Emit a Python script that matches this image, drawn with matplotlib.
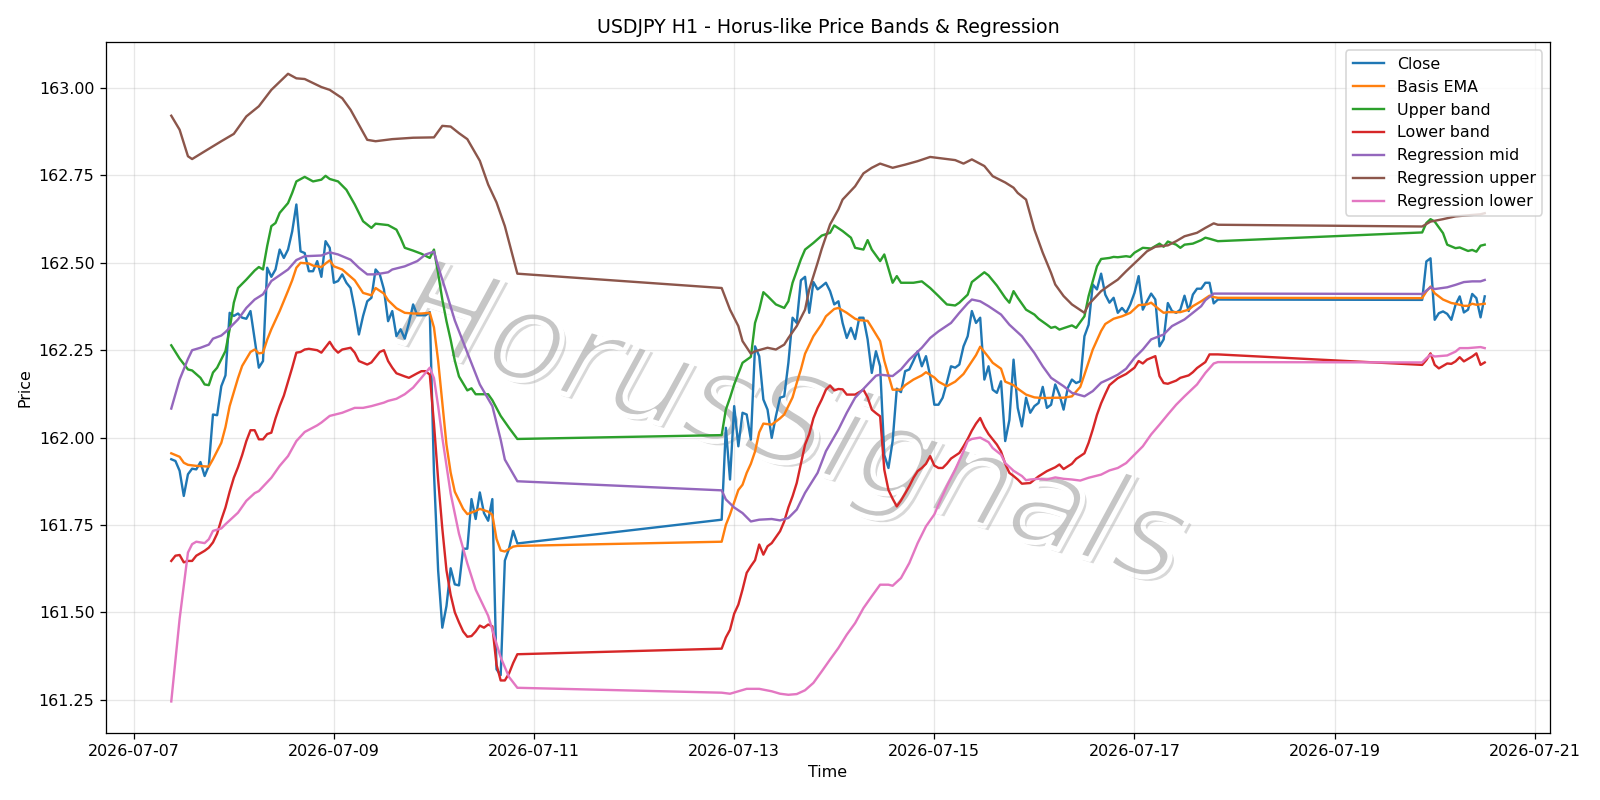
#!/usr/bin/env python3
"""
USDJPY H1: close, basis EMA with bands, and regression channel.
Values read off the reference chart (hours counted from 2026-07-07 00:00).
"""

import matplotlib

matplotlib.use("Agg")

import matplotlib.patheffects as pe
import matplotlib.pyplot as plt
import numpy as np
import pandas as pd

T0 = pd.Timestamp("2026-07-07 00:00")

# Close: hourly bars, the market is shut over the two weekends
CLOSE_H = list(range(9, 93)) + list(range(141, 261)) + list(range(309, 325))
CLOSE_V = [
    161.938, 161.933, 161.905, 161.833, 161.895, 161.911, 161.909, 161.930, 161.890, 161.919,
    162.066, 162.064, 162.147, 162.178, 162.357, 162.348, 162.355, 162.343, 162.340, 162.362,
    162.281, 162.200, 162.219, 162.486, 162.460, 162.481, 162.538, 162.514, 162.538, 162.590,
    162.667, 162.533, 162.528, 162.476, 162.476, 162.505, 162.460, 162.562, 162.543, 162.443,
    162.448, 162.467, 162.443, 162.428, 162.367, 162.295, 162.348, 162.390, 162.400, 162.481,
    162.467, 162.424, 162.333, 162.362, 162.290, 162.310, 162.283, 162.328, 162.381, 162.350,
    162.350, 162.350, 162.359, 161.900, 161.620, 161.456, 161.518, 161.626, 161.580, 161.577,
    161.682, 161.682, 161.824, 161.767, 161.843, 161.784, 161.762, 161.824, 161.337, 161.320,
    161.648, 161.682, 161.733, 161.697,
    161.765, 162.028, 161.880, 162.090, 161.975, 162.071, 162.066, 161.994, 162.261, 162.233,
    162.109, 162.080, 161.999, 162.061, 162.114, 162.118, 162.214, 162.343, 162.328, 162.450,
    162.460, 162.357, 162.445, 162.424, 162.433, 162.443, 162.419, 162.381, 162.390, 162.328,
    162.285, 162.314, 162.282, 162.343, 162.343, 162.281, 162.185, 162.247, 162.204, 161.950,
    161.913, 161.990, 162.140, 162.130, 162.190, 162.195, 162.220, 162.247, 162.204, 162.233,
    162.176, 162.094, 162.094, 162.114, 162.157, 162.204, 162.200, 162.209, 162.261, 162.290,
    162.362, 162.328, 162.343, 162.166, 162.204, 162.137, 162.128, 162.161, 161.990, 162.050,
    162.223, 162.085, 162.032, 162.114, 162.071, 162.090, 162.099, 162.145, 162.085, 162.094,
    162.152, 162.123, 162.080, 162.142, 162.166, 162.156, 162.161, 162.290, 162.323, 162.438,
    162.424, 162.469, 162.409, 162.386, 162.400, 162.357, 162.371, 162.357, 162.381, 162.414,
    162.462, 162.366, 162.390, 162.412, 162.395, 162.261, 162.281, 162.385, 162.362, 162.357,
    162.366, 162.406, 162.362, 162.409, 162.426, 162.426, 162.443, 162.443, 162.384, 162.395,
    162.394, 162.504, 162.513, 162.337, 162.356, 162.361, 162.354, 162.337, 162.380, 162.404,
    162.358, 162.366, 162.411, 162.399, 162.344, 162.404,
]

EMA_H = [
    9, 11, 12, 13, 15, 18, 19, 21, 22, 23, 25, 26, 28, 29, 30, 31, 32, 33, 35, 37, 38, 39, 40,
    42, 43, 45, 46, 47, 48, 50, 53, 55, 57, 58, 60, 61, 63, 65, 67, 69, 71, 72, 73, 74, 75, 76,
    77, 79, 80, 82, 83, 85, 86, 87, 88, 89, 91, 92,
    141, 142, 143, 145, 146, 147, 148, 149, 150, 151, 153, 155, 156, 158, 159, 160, 161, 163,
    165, 166, 168, 169, 171, 173, 174, 176, 177, 179, 180, 182, 184, 185, 187, 189, 190, 192,
    193, 195, 197, 199, 200, 202, 203, 205, 206, 208, 209, 211, 212, 214, 216, 218, 221, 223,
    225, 227, 228, 230, 232, 233, 235, 237, 239, 241, 243, 244, 246, 247, 248, 251, 253, 254,
    256, 258, 259, 260,
    309, 310, 311, 312, 314, 316, 317, 319, 320, 321, 322, 324,
]
EMA_V = [
    161.955, 161.945, 161.928, 161.922, 161.919, 161.917, 161.938, 161.985, 162.030, 162.090,
    162.170, 162.205, 162.245, 162.252, 162.241, 162.243, 162.280, 162.310, 162.362, 162.420,
    162.450, 162.486, 162.500, 162.498, 162.492, 162.488, 162.498, 162.507, 162.490, 162.481,
    162.450, 162.414, 162.407, 162.428, 162.412, 162.393, 162.370, 162.357, 162.355, 162.355,
    162.357, 162.315, 162.220, 162.100, 161.980, 161.900, 161.845, 161.796, 161.781, 161.790,
    161.796, 161.788, 161.779, 161.710, 161.677, 161.674, 161.688, 161.690,
    161.702, 161.750, 161.780, 161.850, 161.865, 161.899, 161.925, 161.960, 162.015, 162.040,
    162.037, 162.055, 162.066, 162.115, 162.156, 162.195, 162.240, 162.290, 162.325, 162.347,
    162.368, 162.371, 162.357, 162.340, 162.336, 162.334, 162.315, 162.276, 162.220, 162.137,
    162.137, 162.150, 162.166, 162.178, 162.187, 162.172, 162.160, 162.147, 162.160, 162.182,
    162.200, 162.236, 162.260, 162.230, 162.214, 162.197, 162.160, 162.150, 162.140, 162.123,
    162.115, 162.113, 162.114, 162.114, 162.118, 162.145, 162.180, 162.252, 162.305, 162.325,
    162.340, 162.347, 162.357, 162.379, 162.381, 162.386, 162.366, 162.357, 162.359, 162.359,
    162.366, 162.376, 162.390, 162.406, 162.402, 162.400,
    162.399, 162.418, 162.432, 162.413, 162.395, 162.385, 162.383, 162.377, 162.377, 162.383,
    162.380, 162.383,
]

UPPER_H = [
    9, 11, 13, 14, 16, 17, 18, 19, 20, 22, 23, 24, 25, 27, 29, 30, 31, 32, 33, 34, 35, 37, 38,
    39, 41, 43, 45, 46, 47, 49, 51, 53, 55, 57, 58, 61, 63, 64, 65, 67, 69, 71, 72, 73, 74, 75,
    76, 77, 78, 80, 81, 82, 85, 86, 88, 90, 92,
    141, 142, 143, 144, 146, 148, 149, 150, 151, 152, 154, 156, 157, 158, 160, 161, 163, 165,
    167, 168, 170, 172, 173, 175, 176, 177, 179, 180, 182, 183, 184, 187, 189, 191, 193, 195,
    197, 198, 200, 201, 204, 205, 207, 209, 210, 211, 212, 214, 216, 217, 219, 220, 221, 222,
    224, 225, 226, 228, 229, 230, 231, 232, 234, 235, 236, 238, 239, 240, 242, 244, 246, 247,
    248, 250, 251, 252, 254, 256, 257, 258, 260,
    309, 310, 311, 312, 314, 315, 317, 318, 320, 321, 322, 323, 324,
]
UPPER_V = [
    162.264, 162.226, 162.195, 162.192, 162.171, 162.152, 162.150, 162.186, 162.200, 162.248,
    162.310, 162.386, 162.428, 162.452, 162.478, 162.488, 162.481, 162.548, 162.605, 162.614,
    162.643, 162.671, 162.700, 162.733, 162.746, 162.733, 162.738, 162.749, 162.740, 162.733,
    162.709, 162.667, 162.619, 162.600, 162.612, 162.608, 162.595, 162.571, 162.543, 162.535,
    162.526, 162.514, 162.538, 162.470, 162.395, 162.333, 162.280, 162.220, 162.175, 162.135,
    162.141, 162.124, 162.124, 162.107, 162.062, 162.028, 161.996,
    162.007, 162.080, 162.114, 162.152, 162.214, 162.231, 162.328, 162.366, 162.416, 162.405,
    162.381, 162.371, 162.390, 162.443, 162.510, 162.538, 162.557, 162.578, 162.586, 162.607,
    162.591, 162.572, 162.543, 162.538, 162.565, 162.538, 162.505, 162.524, 162.443, 162.462,
    162.443, 162.443, 162.447, 162.428, 162.405, 162.381, 162.378, 162.386, 162.409, 162.445,
    162.473, 162.464, 162.435, 162.400, 162.386, 162.419, 162.400, 162.366, 162.352, 162.340,
    162.323, 162.314, 162.317, 162.309, 162.317, 162.321, 162.314, 162.347, 162.405, 162.448,
    162.490, 162.511, 162.514, 162.517, 162.516, 162.519, 162.517, 162.529, 162.543, 162.541,
    162.555, 162.546, 162.561, 162.552, 162.543, 162.552, 162.555, 162.565, 162.572, 162.569,
    162.562,
    162.587, 162.614, 162.625, 162.618, 162.585, 162.552, 162.542, 162.544, 162.534, 162.537,
    162.532, 162.549, 162.552,
]

LOWER_H = [
    9, 10, 11, 12, 13, 14, 15, 17, 18, 19, 20, 21, 22, 23, 24, 25, 26, 27, 28, 29, 30, 31, 32,
    33, 34, 35, 36, 37, 38, 39, 40, 41, 42, 44, 45, 47, 48, 49, 50, 52, 53, 54, 56, 57, 59, 60,
    61, 62, 63, 65, 66, 68, 69, 70, 71, 72, 73, 74, 75, 76, 77, 78, 79, 80, 81, 82, 83, 84, 85,
    86, 87, 88, 89, 90, 91, 92,
    141, 142, 143, 144, 145, 146, 147, 148, 149, 150, 151, 152, 153, 155, 156, 157, 158, 159,
    160, 161, 162, 163, 164, 165, 166, 167, 168, 169, 170, 171, 173, 175, 176, 177, 178, 179,
    180, 181, 182, 183, 184, 185, 186, 187, 188, 189, 190, 191, 192, 193, 194, 195, 196, 197,
    198, 199, 200, 201, 202, 203, 204, 205, 206, 207, 208, 209, 210, 211, 212, 213, 215, 217,
    219, 221, 222, 223, 225, 226, 228, 229, 230, 231, 232, 233, 234, 235, 236, 238, 240, 241,
    242, 243, 245, 246, 247, 248, 250, 251, 253, 254, 255, 257, 258, 260,
    309, 310, 311, 312, 313, 315, 316, 317, 318, 319, 321, 322, 323, 324,
]
LOWER_V = [
    161.647, 161.662, 161.664, 161.643, 161.647, 161.647, 161.662, 161.676, 161.685, 161.700,
    161.725, 161.765, 161.800, 161.845, 161.885, 161.915, 161.950, 161.990, 162.021, 162.021,
    161.995, 161.995, 162.010, 162.014, 162.055, 162.090, 162.120, 162.160, 162.200, 162.243,
    162.245, 162.252, 162.254, 162.250, 162.243, 162.274, 162.255, 162.243, 162.252, 162.257,
    162.243, 162.219, 162.209, 162.215, 162.245, 162.250, 162.219, 162.200, 162.184, 162.175,
    162.171, 162.184, 162.190, 162.190, 162.180, 162.040, 161.880, 161.740, 161.620, 161.550,
    161.500, 161.471, 161.445, 161.430, 161.432, 161.445, 161.462, 161.456, 161.465, 161.460,
    161.350, 161.305, 161.305, 161.325, 161.355, 161.380,
    161.396, 161.428, 161.450, 161.496, 161.522, 161.565, 161.613, 161.632, 161.649, 161.694,
    161.665, 161.689, 161.698, 161.732, 161.760, 161.800, 161.832, 161.870, 161.925, 161.980,
    162.010, 162.055, 162.085, 162.109, 162.137, 162.149, 162.135, 162.139, 162.138, 162.123,
    162.123, 162.137, 162.115, 162.080, 162.070, 162.061, 161.908, 161.850, 161.825, 161.803,
    161.820, 161.840, 161.861, 161.885, 161.904, 161.913, 161.925, 161.947, 161.920, 161.913,
    161.913, 161.925, 161.940, 161.948, 161.956, 161.975, 161.996, 162.020, 162.040, 162.056,
    162.030, 162.010, 161.995, 161.980, 161.960, 161.925, 161.899, 161.890, 161.880, 161.868,
    161.870, 161.889, 161.904, 161.915, 161.923, 161.910, 161.925, 161.939, 161.955, 161.985,
    162.023, 162.065, 162.098, 162.125, 162.150, 162.160, 162.170, 162.182, 162.200, 162.219,
    162.212, 162.223, 162.233, 162.176, 162.156, 162.154, 162.163, 162.171, 162.178, 162.187,
    162.199, 162.216, 162.238, 162.238,
    162.208, 162.222, 162.241, 162.208, 162.198, 162.212, 162.211, 162.218, 162.230, 162.218,
    162.232, 162.241, 162.208, 162.215,
]

REG_MID_H = [
    9, 11, 13, 14, 16, 18, 19, 21, 22, 25, 27, 29, 31, 33, 37, 39, 41, 45, 47, 49, 52, 54, 56,
    58, 61, 62, 65, 68, 70, 72, 73, 75, 77, 80, 83, 86, 88, 89, 92,
    141, 142, 144, 146, 148, 150, 153, 155, 157, 159, 161, 164, 166, 169, 171, 173, 176, 178,
    179, 182, 184, 186, 189, 191, 193, 196, 198, 200, 201, 203, 205, 208, 210, 213, 216, 218,
    220, 223, 225, 228, 230, 232, 234, 236, 238, 240, 242, 244, 247, 249, 252, 254, 256, 257,
    259, 260,
    309, 311, 312, 315, 317, 319, 321, 323, 324,
]
REG_MID_V = [
    162.083, 162.166, 162.225, 162.250, 162.257, 162.266, 162.283, 162.292, 162.302, 162.338,
    162.371, 162.395, 162.410, 162.448, 162.481, 162.508, 162.519, 162.521, 162.530, 162.524,
    162.509, 162.486, 162.467, 162.467, 162.473, 162.481, 162.490, 162.505, 162.524, 162.532,
    162.490, 162.414, 162.335, 162.243, 162.152, 162.090, 161.994, 161.937, 161.875,
    161.849, 161.823, 161.800, 161.784, 161.760, 161.765, 161.767, 161.763, 161.770, 161.794,
    161.842, 161.899, 161.961, 162.023, 162.071, 162.114, 162.152, 162.177, 162.180, 162.176,
    162.195, 162.223, 162.257, 162.285, 162.304, 162.328, 162.357, 162.384, 162.395, 162.390,
    162.376, 162.352, 162.323, 162.290, 162.242, 162.204, 162.171, 162.147, 162.128, 162.118,
    162.133, 162.157, 162.168, 162.180, 162.197, 162.228, 162.252, 162.281, 162.295, 162.319,
    162.338, 162.357, 162.376, 162.393, 162.412, 162.412,
    162.411, 162.430, 162.425, 162.430, 162.437, 162.445, 162.447, 162.447, 162.451,
]

REG_UP_H = [
    9, 11, 13, 14, 17, 21, 24, 27, 30, 33, 37, 39, 41, 45, 47, 50, 52, 56, 58, 62, 67, 72, 74,
    76, 78, 80, 83, 85, 87, 89, 92,
    141, 143, 145, 146, 148, 149, 152, 154, 156, 157, 159, 161, 162, 164, 165, 167, 169, 170,
    173, 175, 177, 179, 182, 185, 188, 191, 193, 197, 199, 201, 204, 206, 209, 211, 212, 214,
    216, 218, 220, 221, 223, 225, 228, 229, 232, 234, 236, 238, 241, 243, 245, 248, 250, 252,
    255, 257, 259, 260,
    309, 311, 314, 317, 320, 323, 324,
]
REG_UP_V = [
    162.921, 162.881, 162.805, 162.797, 162.819, 162.848, 162.869, 162.919, 162.948, 162.995,
    163.041, 163.028, 163.026, 163.003, 162.995, 162.971, 162.938, 162.852, 162.848, 162.854,
    162.858, 162.859, 162.892, 162.890, 162.871, 162.854, 162.792, 162.724, 162.673, 162.605,
    162.469,
    162.428, 162.366, 162.319, 162.276, 162.240, 162.247, 162.257, 162.252, 162.266, 162.285,
    162.319, 162.366, 162.424, 162.500, 162.540, 162.610, 162.653, 162.681, 162.719, 162.756,
    162.772, 162.784, 162.772, 162.781, 162.791, 162.803, 162.800, 162.794, 162.784, 162.796,
    162.777, 162.748, 162.730, 162.715, 162.700, 162.681, 162.595, 162.529, 162.471, 162.438,
    162.405, 162.381, 162.357, 162.381, 162.419, 162.436, 162.452, 162.476, 162.510, 162.533,
    162.546, 162.550, 162.562, 162.576, 162.586, 162.600, 162.613, 162.609,
    162.604, 162.618, 162.625, 162.633, 162.636, 162.639, 162.642,
]

REG_LO_H = [
    9, 11, 13, 14, 15, 17, 18, 19, 21, 22, 25, 27, 29, 30, 33, 35, 37, 39, 41, 44, 45, 47, 50,
    53, 55, 57, 60, 61, 63, 65, 67, 69, 71, 72, 73, 74, 76, 78, 80, 82, 85, 87, 88, 90, 92,
    141, 143, 145, 147, 150, 153, 155, 157, 159, 161, 163, 165, 167, 169, 171, 173, 175, 177,
    179, 181, 182, 184, 186, 188, 190, 192, 193, 195, 197, 199, 200, 201, 203, 205, 206, 208,
    209, 211, 213, 214, 215, 217, 219, 221, 223, 225, 227, 229, 232, 234, 236, 238, 240, 242,
    244, 246, 248, 250, 252, 255, 257, 259, 260,
    309, 310, 311, 312, 315, 317, 318, 320, 323, 324,
]
REG_LO_V = [
    161.245, 161.481, 161.671, 161.695, 161.702, 161.698, 161.709, 161.733, 161.740, 161.752,
    161.785, 161.819, 161.841, 161.847, 161.885, 161.919, 161.947, 161.990, 162.016, 162.035,
    162.043, 162.062, 162.071, 162.085, 162.085, 162.090, 162.100, 162.105, 162.111, 162.124,
    162.143, 162.171, 162.200, 162.170, 162.090, 162.000, 161.840, 161.725, 161.640, 161.565,
    161.490, 161.410, 161.371, 161.315, 161.284,
    161.270, 161.267, 161.274, 161.281, 161.281, 161.274, 161.267, 161.264, 161.266, 161.277,
    161.298, 161.331, 161.365, 161.398, 161.436, 161.469, 161.512, 161.546, 161.579, 161.579,
    161.576, 161.598, 161.641, 161.698, 161.746, 161.780, 161.808, 161.861, 161.908, 161.961,
    161.990, 161.996, 162.000, 161.987, 161.970, 161.951, 161.927, 161.905, 161.890, 161.878,
    161.880, 161.882, 161.880, 161.886, 161.882, 161.880, 161.877, 161.885, 161.894, 161.906,
    161.913, 161.927, 161.951, 161.975, 162.009, 162.037, 162.066, 162.094, 162.118, 162.152,
    162.185, 162.212, 162.216,
    162.215, 162.227, 162.237, 162.232, 162.235, 162.246, 162.256, 162.256, 162.259, 162.256,
]

SERIES = [
    ("Close", CLOSE_H, CLOSE_V),
    ("Basis EMA", EMA_H, EMA_V),
    ("Upper band", UPPER_H, UPPER_V),
    ("Lower band", LOWER_H, LOWER_V),
    ("Regression mid", REG_MID_H, REG_MID_V),
    ("Regression upper", REG_UP_H, REG_UP_V),
    ("Regression lower", REG_LO_H, REG_LO_V),
]


def to_time(hours):
    return T0 + pd.to_timedelta(np.asarray(hours, dtype=float), unit="h")


def main() -> None:
    dpi = 800 / 7
    fig, ax = plt.subplots(figsize=(14, 7), dpi=dpi)
    fig.subplots_adjust(left=0.066, right=0.969, top=0.947, bottom=0.084)

    for label, hours, values in SERIES:
        ax.plot(to_time(hours), values, label=label)

    # marca de agua (trazo afinado con un borde blanco + sombra suave)
    ax.text(
        0.474, 0.440, "HorusSignals",
        transform=ax.transAxes,
        fontsize=79,
        rotation=-17.5,
        ha="center", va="center",
        style="italic",
        color="#c6c6c6",
        zorder=0,
        path_effects=[
            pe.SimplePatchShadow(offset=(2.5, -2.5), shadow_rgbFace="#d8d8d8", alpha=1.0),
            pe.Stroke(linewidth=3.2, foreground="white"),
        ],
    )

    ax.set_title("USDJPY H1 - Horus-like Price Bands & Regression")
    ax.set_xlabel("Time")
    ax.set_ylabel("Price")
    ax.grid(True, alpha=0.3)
    ax.legend(loc="upper right")

    fig.savefig("out.png", dpi=dpi)


if __name__ == "__main__":
    main()
